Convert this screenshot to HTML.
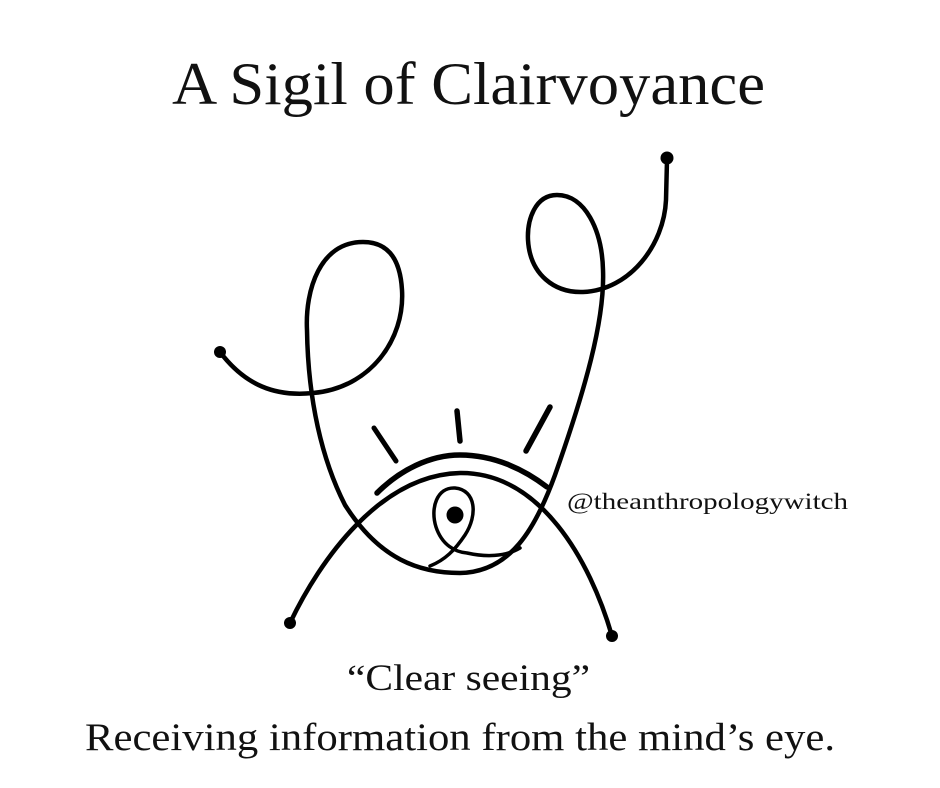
<!DOCTYPE html>
<html><head><style>html,body{margin:0;padding:0;background:#fff}svg{display:block}</style></head>
<body>
<svg width="940" height="788" viewBox="0 0 940 788" xmlns="http://www.w3.org/2000/svg">
<rect width="940" height="788" fill="#fff"/>
<g font-family="Liberation Serif, serif" fill="#111">
<text x="172" y="104" font-size="60" textLength="593" lengthAdjust="spacingAndGlyphs">A Sigil of Clairvoyance</text>
<text x="567" y="509" font-size="23" textLength="281" lengthAdjust="spacingAndGlyphs">@theanthropologywitch</text>
<text x="347" y="690" font-size="37" textLength="243" lengthAdjust="spacingAndGlyphs">“Clear seeing”</text>
<text x="85" y="750" font-size="39" textLength="750" lengthAdjust="spacingAndGlyphs">Receiving information from the mind’s eye.</text>
</g>
<g fill="none" stroke="#000" stroke-width="4.5" stroke-linecap="round" stroke-linejoin="round">
<path d="M220,352 C245,385 275,397 313,393 C370,388 405,340 402,290 C400,255 385,242 363,242 C320,242 305,290 307,330 C308,400 322,460 345,505 C380,560 420,573 460,573 C510,572 535,530 555,475 C585,390 605,320 603,270 C602,230 585,195 557,195 C535,195 527,220 528,240 C530,275 555,293 583,292 C630,290 664,245 666,200 L667,160"/>
<path d="M290,623 C320,560 380,475 460,473 C540,472 590,560 612,636"/>
<path d="M377,493 C400,470 430,455 460,455 C495,455 525,470 547,487" stroke-width="5.5"/>
<path d="M430,566 C445,560 455,550 465,535 C478,515 476,490 455,488 C437,487 430,508 436,527 C442,545 455,552 467,553 C485,557 505,557 520,548" stroke-width="3.5"/>
</g>
<g stroke="#000" stroke-linecap="round">
<line x1="374" y1="428" x2="396" y2="461" stroke-width="5"/>
<line x1="457" y1="411" x2="460" y2="441" stroke-width="5.5"/>
<line x1="550" y1="407" x2="526" y2="451" stroke-width="5.5"/>
</g>
<g fill="#000">
<circle cx="220" cy="352" r="6"/>
<circle cx="667" cy="158" r="6.5"/>
<circle cx="290" cy="623" r="6"/>
<circle cx="612" cy="636" r="6"/>
<circle cx="455" cy="515" r="8.5"/>
</g>
</svg>
</body></html>
